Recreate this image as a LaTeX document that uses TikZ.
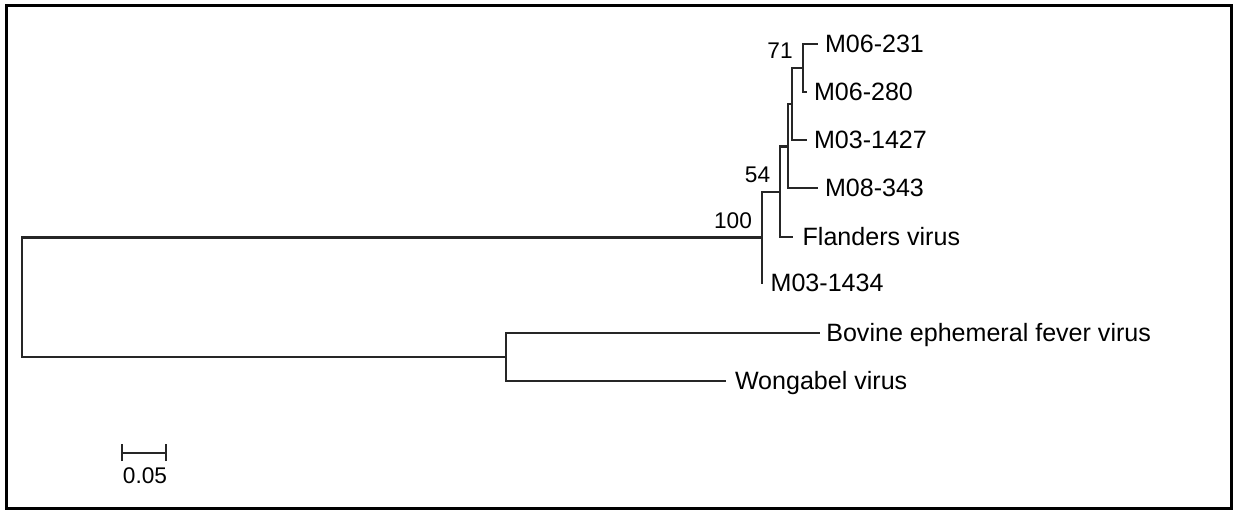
\documentclass[tikz,border=0pt]{standalone}
\usepackage{fontspec}
\setmainfont{Liberation Sans}
\begin{document}
\begin{tikzpicture}[x=0.75pt,y=-0.75pt,
  branch/.style={line width=1.6pt,draw=black!85,line cap=rect},
  leaf/.style={anchor=west,inner ysep=0pt,outer sep=0pt,inner xsep=6pt,
    font=\fontsize{18.8}{20}\selectfont,text height=13.4pt,text depth=0pt},
  boot/.style={inner sep=0pt,font=\fontsize{17}{19}\selectfont,text height=12.2pt,text depth=0pt}]
\useasboundingbox (0,0) rectangle (1233,510);
\fill[white] (0,0) rectangle (1233,510);
\draw[line width=2.25pt] (6.5,5.5) rectangle (1231.5,508.5);
% internal nodes
\coordinate (root) at (22,297.5);
\coordinate (n100) at (762,237.5);
\coordinate (nOut) at (506,357);
\coordinate (n54) at (780,192);
\coordinate (nA) at (788,146.5);
\coordinate (nB) at (792,104);
\coordinate (n71) at (803,68);
% leaves
\node[leaf] (l1) at (817,44) {M06-231};
\node[leaf] (l2) at (806,92) {M06-280};
\node[leaf] (l3) at (806,140) {M03-1427};
\node[leaf] (l4) at (817,188) {M08-343};
\node[leaf,inner xsep=8pt] (l5) at (792,237) {Flanders virus};
\node[leaf,inner xsep=6.5pt] (l6) at (762,283) {M03-1434};
\node[leaf,inner xsep=5.5pt] (l7) at (819,333) {Bovine ephemeral fever virus};
\node[leaf,inner xsep=7.5pt] (l8) at (725,381) {Wongabel virus};
% branches
\draw[branch] (root) |- (n100);
\draw[branch] (root) |- (nOut);
\draw[branch] (n100) |- (n54);
\draw[branch] (n100) |- (l6.west);
\draw[branch] (n54) |- (nA);
\draw[branch] (n54) |- (l5.west);
\draw[branch] (nA) |- (nB);
\draw[branch] (nA) |- (l4.west);
\draw[branch] (nB) |- (n71);
\draw[branch] (nB) |- (l3.west);
\draw[branch] (n71) |- (l1.west);
\draw[branch] (n71) |- (l2.west);
\draw[branch] (nOut) |- (l7.west);
\draw[branch] (nOut) |- (l8.west);
% bootstrap values
\node[boot] (b100) at (733,220) {100};
\node[boot] (b54) at (757.5,174.5) {54};
\node[boot] (b71) at (780,50.5) {71};
% scale bar
\coordinate (sbL) at (122,453);
\coordinate (sbR) at (166,453);
\draw[branch,line cap=butt] (sbL) -- (sbR);
\draw[branch,line cap=butt] ([yshift=-8*0.75pt]sbL) -- ([yshift=9*0.75pt]sbL);
\draw[branch,line cap=butt] ([yshift=-8*0.75pt]sbR) -- ([yshift=9*0.75pt]sbR);
\node[boot] (sbT) at (145,475) {0.05};
\end{tikzpicture}
\end{document}
